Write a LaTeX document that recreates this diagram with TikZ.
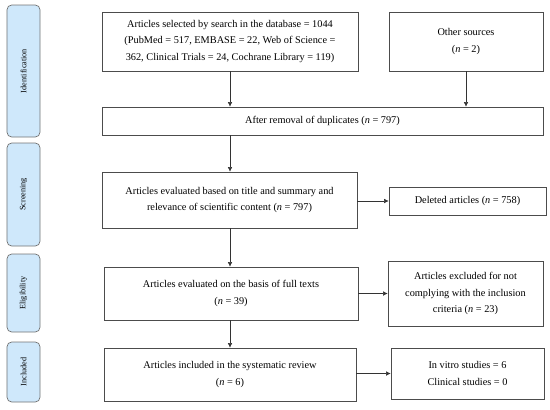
\documentclass[tikz,border=0pt]{standalone}
\usepackage{fontspec}
\setmainfont{Liberation Serif}
\newfontfamily\tabfont[Ligatures=NoCommon]{Liberation Serif}
\usetikzlibrary{arrows.meta}

\newcommand{\nn}{\textit{n}}  % sample size symbol, set in the text font

\begin{document}
\begin{tikzpicture}[x=0.03cm, y=-0.03cm,
  box/.style={draw=black!70, line width=0.5pt, align=center, inner sep=2pt,
              font=\fontsize{8.8}{14}\selectfont},
  phase/.style={draw=black!55, fill=phaseblue, rounded corners=4pt,
                line width=0.6pt, minimum width=0.99cm,
                font=\tabfont\fontsize{7}{8}\selectfont},
  flow/.style={draw=black!80, line width=0.5pt, -{Latex[length=4pt,width=4pt]}}]

%─────────────
% Controls
%─────────────
\definecolor{phaseblue}{HTML}{CFE8FB}  % fill of the phase tabs
\useasboundingbox (0,0) rectangle (550,409);

%─────────────
% Phase tabs on the left
%─────────────
\node[phase, minimum height=3.96cm] (ident) at (23.5,71)
  {\rotatebox{90}{Identification}};
\node[phase, minimum height=3.09cm] (screen) at (23.5,194.5)
  {\rotatebox{90}{Screening}};
\node[phase, minimum height=2.34cm] (elig) at (23.5,293)
  {\rotatebox{90}{Eligibility}};
\node[phase, minimum height=1.80cm] (incl) at (23.5,372)
  {\rotatebox{90}{Included}};

%─────────────
% Main column
%─────────────
\node[box, minimum width=7.68cm, minimum height=1.77cm] (search) at (230,41.5)
  {Articles selected by search in the database = 1044\\
   (PubMed = 517, EMBASE = 22, Web of Science =\\
   362, Clinical Trials = 24, Cochrane Library = 119)};
\node[box, minimum width=4.62cm, minimum height=1.77cm] (other) at (466,41.5)
  {Other sources\\ (\nn{} = 2)};
\node[box, minimum width=13.23cm, minimum height=0.84cm] (dup) at (322.5,121)
  {After removal of duplicates (\nn{} = 797)};
\node[box, minimum width=7.65cm, minimum height=1.68cm] (screened) at (229.5,200)
  {Articles evaluated based on title and summary and\\
   relevance of scientific content (\nn{} = 797)};
\node[box, minimum width=7.62cm, minimum height=1.59cm] (fulltext) at (231,293.5)
  {Articles evaluated on the basis of full texts\\ (\nn{} = 39)};
\node[box, minimum width=7.56cm, minimum height=1.59cm] (review) at (230,374.5)
  {Articles included in the systematic review\\ (\nn{} = 6)};

%─────────────
% Side column
%─────────────
\node[box, minimum width=4.71cm, minimum height=0.84cm] (deleted) at (467.5,201)
  {Deleted articles (\nn{} = 758)};
\node[box, minimum width=4.65cm, minimum height=1.95cm] (excluded) at (465.5,293.5)
  {Articles excluded for not\\ complying with the inclusion\\ criteria (\nn{} = 23)};
\node[box, minimum width=4.59cm, minimum height=1.53cm] (studies) at (467.5,373.5)
  {In vitro studies = 6\\ Clinical studies = 0};

%─────────────
% Arrows
%─────────────
\draw[flow] (search.south) -- (search.south |- dup.north);
\draw[flow] (other.south) -- (other.south |- dup.north);
\draw[flow] (search.south |- dup.south) -- (screened.north -| search.south);
\draw[flow] (screened.east |- deleted.west) -- (deleted.west);
\draw[flow] (screened.south -| search.south) -- (fulltext.north -| search.south);
\draw[flow] (fulltext.east) -- (excluded.west |- fulltext.east);
\draw[flow] (fulltext.south -| search.south) -- (review.north -| search.south);
\draw[flow] (review.east |- studies.west) -- (studies.west);

\end{tikzpicture}
\end{document}
